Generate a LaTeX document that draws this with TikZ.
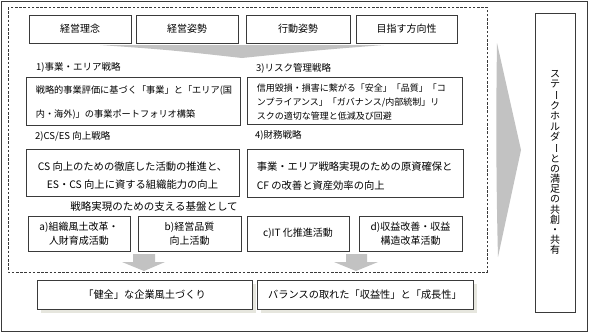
\documentclass[tikz,border=0pt]{standalone}
\usepackage{fontspec}
\setmainfont{Noto Sans CJK JP}
\usepackage{graphicx}
\newcommand\vchoon{\rotatebox[origin=c]{-90}{ー}}
\definecolor{linec}{HTML}{3A3A3A}
\definecolor{arrowc}{HTML}{C2C2C2}
\definecolor{shadowc}{HTML}{E6E6DE}
\begin{document}
\begin{tikzpicture}[x=1pt,y=-1pt,
  box/.style={draw=linec, line width=0.8pt, fill=white, inner sep=0pt},
  topbox/.style={box, minimum height=28pt, font=\fontsize{10}{12}\selectfont},
  basebox/.style={box, minimum height=35pt, align=center, font=\fontsize{10}{14}\selectfont},
  resbox/.style={box, minimum height=29pt, font=\fontsize{10.2}{12}\selectfont},
  lbl/.style={anchor=west, inner sep=0pt, font=\fontsize{9.5}{11}\selectfont},
  txt/.style={inner sep=0pt, align=left},
  shapefill/.style={fill=arrowc, draw=none}]
\useasboundingbox (0,0) rectangle (589,333);
% outer frame
\draw[linec, line width=0.9pt] (1,1) rectangle (587,331);
% dashed frame
\draw[linec, line width=0.7pt, dash pattern=on 2.6pt off 1.6pt] (8,7) rectangle (487,272);
% top boxes
\node[topbox, minimum width=102pt] (t1) at (80,29) {経営理念};
\node[topbox, minimum width=102pt] (t2) at (187,29) {経営姿勢};
\node[topbox, minimum width=104pt] (t3) at (298,29) {行動姿勢};
\node[topbox, minimum width=101pt] (t4) at (406.5,29) {目指す方向性};
% wide wedge
\fill[shapefill] (100,45) -- (384,45) .. controls (320,50) .. (242,58) .. controls (170,50) .. (100,45) -- cycle;
% labels
\node[lbl] (l1) at (36,67) {1)事業・エリア戦略};
\node[lbl] (l3) at (256,68) {3)リスク管理戦略};
\node[lbl] (l2) at (35,136) {2)CS/ES 向上戦略};
\node[lbl] (l4) at (255,135) {4)財務戦略};
% strategy boxes
\node[box, minimum width=214pt, minimum height=48pt] (s1) at (133,101) {};
\node[txt, anchor=west, font=\fontsize{9.2}{24}\selectfont] (s1t) at ([xshift=10pt,yshift=-2pt]s1.west) {戦略的事業評価に基づく「事業」と「エリア(国\\内・海外)」の事業ポートフォリオ構築};
\node[box, minimum width=215pt, minimum height=47pt] (s3) at (354.5,100.5) {};
\node[txt, anchor=west, font=\fontsize{9}{14}\selectfont] (s3t) at ([xshift=10pt,yshift=-1.5pt]s3.west) {信用毀損・損害に繋がる「安全」「品質」「コ\\ンプライアンス」「ガバナンス/内部統制」リ\\スクの適切な管理と低減及び回避};
\node[box, minimum width=213pt, minimum height=47pt] (s2) at (132.5,172.5) {};
\node[inner sep=0pt, align=center, font=\fontsize{10.3}{18.5}\selectfont] (s2t) at ([yshift=-3pt]s2.center) {CS 向上のための徹底した活動の推進と、\\ES・CS 向上に資する組織能力の向上};
\node[box, minimum width=216pt, minimum height=48pt] (s4) at (355,173) {};
\node[txt, anchor=west, font=\fontsize{10.3}{19}\selectfont] (s4t) at ([xshift=10pt,yshift=-3pt]s4.west) {事業・エリア戦略実現のための原資確保と\\CF の改善と資産効率の向上};
% foundation caption
\node[inner sep=0pt, font=\fontsize{10.5}{12}\selectfont] (cap) at (154,207) {戦略実現のための支える基盤として};
% foundation boxes
\node[basebox, minimum width=102pt] (ba) at (79,233.5) {a)組織風土改革・\\人財育成活動};
\node[basebox, minimum width=103pt] (bb) at (189.5,233.5) {b)経営品質\\向上活動};
\node[basebox, minimum width=102pt] (bc) at (298,233.5) {c)IT 化推進活動};
\node[basebox, minimum width=103pt] (bd) at (410.5,233.5) {d)収益改善・収益\\構造改革活動};
% small down arrows
\fill[shapefill] (133,254) -- (155,254) -- (155,262) -- (165,262) -- (144,271) -- (122,262) -- (133,262) -- cycle;
\fill[shapefill] (346,254) -- (367,254) -- (367,262) -- (378,262) -- (356,271) -- (334,262) -- (346,262) -- cycle;
% result boxes with shadows
\fill[shadowc] (41,284) rectangle (256,313);
\fill[shadowc] (261,284) rectangle (477,313);
\node[resbox, minimum width=215pt] (r1) at (144.5,294.5) {「健全」な企業風土づくり};
\node[resbox, minimum width=216pt] (r2) at (365,294.5) {バランスの取れた「収益性」と「成長性」};
% right wedge
\fill[shapefill] (497,43) -- (521,150) -- (498,257) .. controls (496,180) and (496,110) .. (497,43) -- cycle;
% stakeholder box
\node[box, minimum width=40pt, minimum height=299pt] (sh) at (555,162.5) {};
\node[inner sep=0pt, align=center, font=\fontsize{10}{10.2}\selectfont] (sht) at (555,162.5) {ス\\テ\\\vchoon\\ク\\ホ\\ル\\ダ\\\vchoon\\と\\の\\満\\足\\の\\共\\創\\・\\共\\有};
\end{tikzpicture}
\end{document}
